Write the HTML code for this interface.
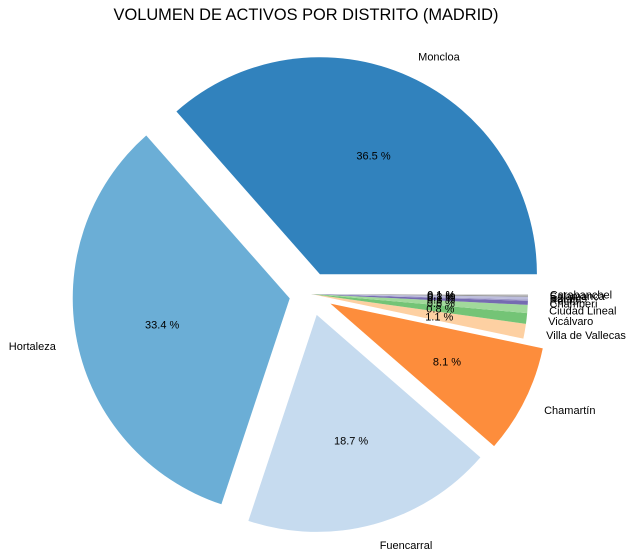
<!DOCTYPE html>
<html><head><meta charset="utf-8"><style>
body{margin:0;background:#fff;}
svg{display:block;font-family:"Liberation Sans","DejaVu Sans",sans-serif;}
</style></head><body>
<svg id="chart" width="634" height="558" viewBox="0 0 634 558">
<text x="306" y="20" text-anchor="middle" font-size="16.4">VOLUMEN DE ACTIVOS POR DISTRITO (MADRID)</text>
<g id="slices"></g>
<g id="labels"></g>
</svg>
<script>
const categories=["Moncloa","Hortaleza","Fuencarral","Chamartín","Villa de Vallecas","Vicálvaro","Ciudad Lineal","Chamberí","Retiro","Barajas","Salamanca","Carabanchel"];
const values=[36.5,33.4,18.7,8.1,1.1,0.8,0.6,0.3,0.1,0.2,0.1,0.1];
const explode=[0.1,0.1,0.1,0.1,0,0,0,0,0,0,0,0];
const colors=["#3182bd","#6baed6","#c6dbef","#fd8d3c","#fdd0a2","#74c476","#a1d99b","#756bb1","#9e9ac8","#bcbddc","#969696","#d9d9d9"];
const cx=311,cy=294,R=217;
const NS="http://www.w3.org/2000/svg";
const gS=document.getElementById('slices'),gL=document.getElementById('labels');
const total=values.reduce((a,b)=>a+b,0);
let acc=0;
function pt(x,y,a,r){return [x+r*Math.cos(a),y-r*Math.sin(a)];}
values.forEach((v,i)=>{
  const a0=acc/total*2*Math.PI; acc+=v; const a1=acc/total*2*Math.PI;
  const am=(a0+a1)/2;
  const [ox,oy]=pt(cx,cy,am,explode[i]*R);
  const [x0,y0]=pt(ox,oy,a0,R),[x1,y1]=pt(ox,oy,a1,R);
  const large=(a1-a0)>Math.PI?1:0;
  const p=document.createElementNS(NS,'path');
  p.setAttribute('d',`M${ox},${oy}L${x0},${y0}A${R},${R} 0 ${large} 0 ${x1},${y1}Z`);
  p.setAttribute('fill',colors[i%colors.length]);
  
  
  gS.appendChild(p);
  const [lx,ly]=pt(ox,oy,am,1.1*R);
  const t=document.createElementNS(NS,'text');
  t.setAttribute('x',lx);t.setAttribute('y',ly+4);t.setAttribute('font-size','11');
  t.setAttribute('text-anchor',Math.cos(am)>=0?'start':'end');
  t.textContent=categories[i];
  
  
  gL.appendChild(t);
  const [px,py]=pt(ox,oy,am,0.6*R);
  const q=document.createElementNS(NS,'text');
  q.setAttribute('x',px);q.setAttribute('y',py+4);q.setAttribute('font-size','11');
  q.setAttribute('text-anchor','middle');
  q.textContent=v.toFixed(1)+' %';
  
  
  gL.appendChild(q);
});
</script>
</body></html>
